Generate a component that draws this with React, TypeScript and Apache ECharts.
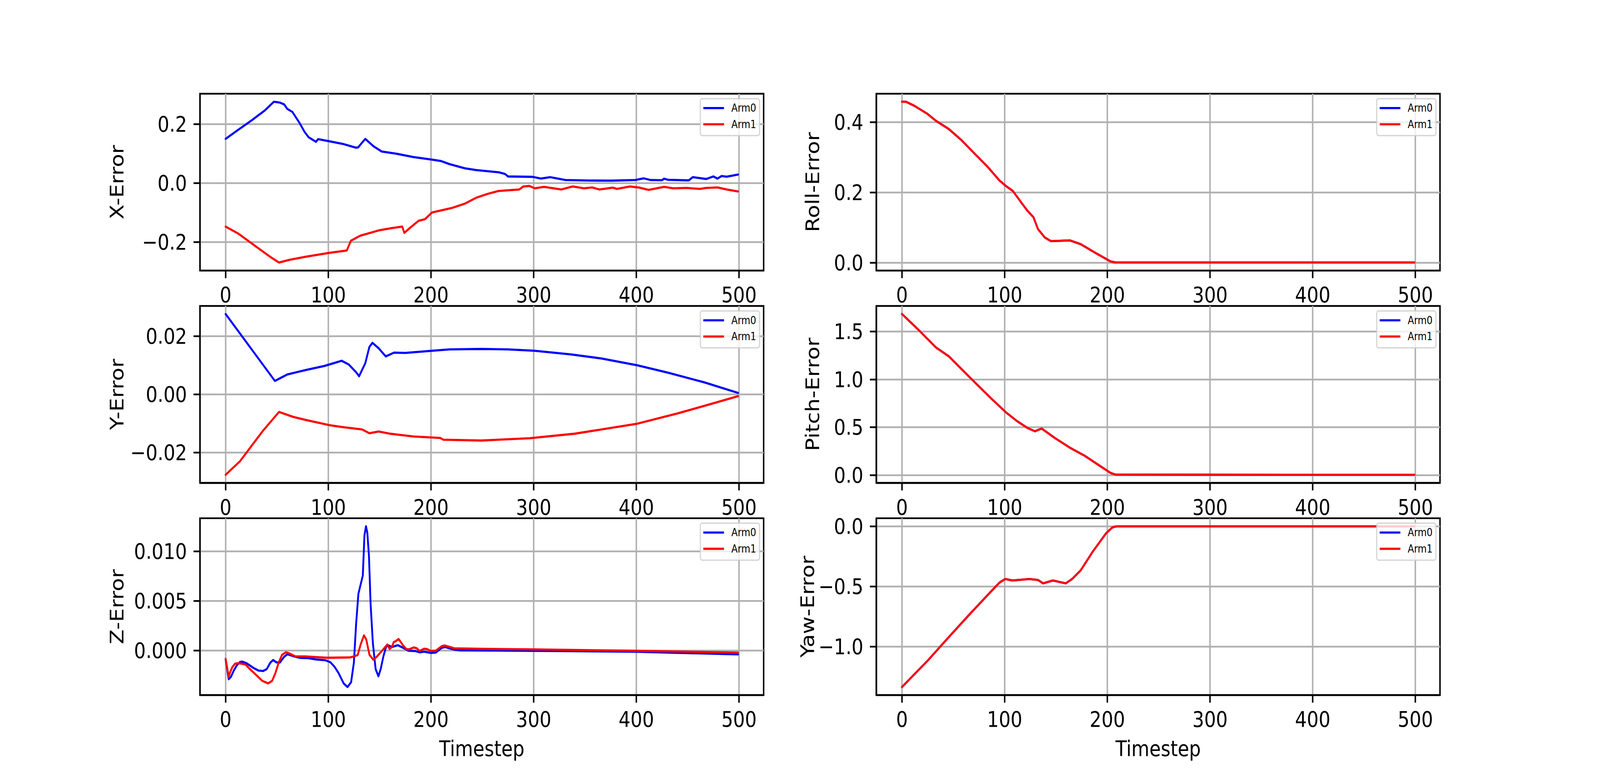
import React, { useEffect, useRef, useState } from "react";
import * as echarts from "echarts";

// ---------- data ----------
const timestepTicks = [0, 100, 200, 300, 400, 500];

const xErrArm0 = [[0,0.150],[12,0.180],[25,0.212],[38,0.246],[47,0.276],[53,0.273],[57,0.267],[60,0.252],[65,0.2415],[72,0.204],[77,0.173],[81,0.155],[88,0.140],[90,0.149],[101,0.142],[114,0.133],[127,0.120],[129,0.121],[136,0.150],[144,0.125],[152,0.107],[166,0.0997],[183,0.088],[201,0.0795],[210,0.0744],[218,0.0643],[233,0.050],[244,0.044],[266,0.0365],[272,0.031],[275,0.0223],[299,0.021],[307,0.0152],[316,0.020],[331,0.0101],[353,0.0086],[375,0.0081],[399,0.0101],[407,0.016],[414,0.0101],[425,0.0096],[427,0.0147],[431,0.011],[451,0.0091],[455,0.020],[468,0.0137],[475,0.0223],[479,0.015],[483,0.0238],[488,0.0215],[499,0.0289]];
const xErrArm1 = [[0,-0.148],[12,-0.171],[27,-0.209],[44,-0.252],[52,-0.270],[62,-0.261],[79,-0.2496],[101,-0.237],[118,-0.229],[122,-0.196],[131,-0.179],[149,-0.161],[162,-0.153],[172,-0.148],[174,-0.169],[181,-0.148],[188,-0.128],[194,-0.123],[201,-0.100],[210,-0.093],[220,-0.085],[233,-0.070],[244,-0.050],[255,-0.037],[266,-0.0268],[286,-0.0218],[290,-0.0116],[296,-0.010],[301,-0.018],[310,-0.013],[327,-0.0218],[338,-0.0116],[349,-0.018],[357,-0.015],[364,-0.0218],[377,-0.0157],[381,-0.020],[394,-0.0116],[403,-0.0157],[412,-0.0233],[427,-0.013],[436,-0.018],[449,-0.0167],[462,-0.020],[468,-0.0167],[479,-0.015],[488,-0.0218],[499,-0.0284]];

const yErrArm0 = [[0,0.02757],[48,0.00458],[53,0.0055],[60,0.0068],[68,0.00748],[79,0.0084],[96,0.0097],[105,0.01065],[113,0.0115],[120,0.0102],[127,0.0076],[130,0.0062],[136,0.01065],[140,0.01626],[143,0.01766],[149,0.0158],[156,0.0130],[164,0.0143],[175,0.0142],[201,0.01495],[218,0.0154],[249,0.01556],[275,0.0154],[301,0.01495],[336,0.0137],[366,0.0123],[401,0.00995],[431,0.0074],[466,0.0041],[499,0.00047]];
const yErrArm1 = [[0,-0.02766],[14,-0.0230],[36,-0.0127],[52,-0.00607],[66,-0.0078],[79,-0.0089],[101,-0.0106],[114,-0.0113],[133,-0.0121],[140,-0.0134],[149,-0.0128],[160,-0.01355],[183,-0.0145],[209,-0.0150],[212,-0.0156],[249,-0.0159],[296,-0.0151],[340,-0.01355],[401,-0.0101],[440,-0.0066],[470,-0.0036],[499,-0.00065]];

const zErrArm0 = [[0,-0.00092],[3,-0.00292],[5.2,-0.00268],[8,-0.00203],[11,-0.0015],[14,-0.00118],[16,-0.00114],[20.5,-0.00131],[27,-0.00177],[32,-0.00205],[36.6,-0.00209],[40,-0.0019],[43.6,-0.00124],[46.3,-0.00098],[49.6,-0.00122],[52.8,-0.00124],[57,-0.00065],[60.3,-0.00039],[66.8,-0.00062],[72,-0.00075],[81,-0.00079],[88,-0.00092],[97,-0.00100],[102,-0.0012],[106,-0.00165],[110,-0.0023],[115,-0.00335],[118.7,-0.00371],[122.2,-0.00322],[124.9,-0.00125],[127.1,0.00269],[129.3,0.00571],[133.6,0.00755],[135.2,0.01161],[136.7,0.01253],[138,0.01188],[139.6,0.00951],[141.2,0.00466],[143.4,0.00072],[146.1,-0.0019],[148.8,-0.00262],[151,-0.0019],[153.7,-0.00059],[156.4,0.00039],[158.6,0.00049],[161.8,0.00033],[167.8,0.00052],[173.8,0.0002],[178.1,-0.00004],[184.6,-0.00007],[188.9,-0.0002],[193.3,-0.00013],[199.8,-0.00026],[204.7,-0.00022],[210.6,0.00026],[213.9,0.00033],[222.6,0.00007],[228,0],[300,-0.00005],[400,-0.00014],[499,-0.00041]];
const zErrArm1 = [[0,-0.00085],[3,-0.00268],[4.3,-0.00223],[6.5,-0.0017],[9.2,-0.00135],[12,-0.00131],[15.6,-0.00135],[19.4,-0.00144],[23.7,-0.0019],[29,-0.00242],[35.6,-0.00308],[41.5,-0.00334],[45.3,-0.00308],[48.5,-0.00229],[51.7,-0.00124],[54.9,-0.00046],[58.7,-0.0002],[62.5,-0.00033],[68,-0.00062],[78,-0.00062],[88,-0.00069],[99,-0.00075],[121,-0.00072],[125,-0.00062],[128.7,-0.00046],[131.5,0.00059],[134.7,0.00151],[136.9,0.00112],[140.1,-0.00046],[143.9,-0.00096],[147.7,-0.00059],[152.1,-0.00007],[157.5,0.00059],[159.7,0.00013],[161.8,0.00033],[163.8,0.00085],[165.6,0.00092],[168.5,0.00114],[172.7,0.00052],[175.9,0.00013],[178.1,0.00009],[183.5,0.00029],[186.2,0.0002],[188.9,-0.00007],[193.3,0.00016],[196,0.00013],[199.8,-0.00007],[204.7,-0.00004],[210.6,0.00043],[213.4,0.00049],[222.6,0.0002],[244,0.00016],[300,0.00009],[400,-0.00005],[499,-0.00023]];

// Both arms coincide in the orientation errors (Arm0 is hidden under Arm1)
const rollErr = [[0,0.4574],[4,0.4574],[12,0.446],[25,0.4226],[33,0.4034],[45.5,0.380],[58,0.348],[70,0.312],[83,0.2736],[95,0.2332],[101,0.2183],[108,0.2034],[116,0.1715],[122,0.148],[128,0.129],[132.5,0.0949],[139,0.0715],[145,0.0609],[153,0.0617],[163.5,0.063],[174,0.0523],[190,0.0247],[203,0.0034],[208,0],[499,0]];
const pitchErr = [[0,1.682],[16.6,1.511],[33,1.333],[45.5,1.241],[66,1.020],[87,0.799],[101,0.657],[112,0.564],[122,0.493],[129.5,0.457],[136,0.486],[149,0.386],[163.5,0.286],[178,0.201],[192,0.101],[203,0.023],[208,0.004],[499,0.003]];
const yawErr = [[0,-1.338],[25,-1.118],[45.5,-0.923],[66,-0.731],[87,-0.540],[95,-0.468],[100.6,-0.439],[107.6,-0.451],[124,-0.439],[132.5,-0.447],[137.4,-0.475],[147,-0.451],[159.4,-0.475],[165.6,-0.439],[174,-0.367],[186,-0.208],[199,-0.056],[205,-0.009],[209,0],[499,0]];

const panelNames = ["X-Error", "Y-Error", "Z-Error", "Roll-Error", "Pitch-Error", "Yaw-Error"];
const arm0Series = [xErrArm0, yErrArm0, zErrArm0, rollErr, pitchErr, yawErr];
const arm1Series = [xErrArm1, yErrArm1, zErrArm1, rollErr, pitchErr, yawErr];
const yTicks = [
  [-0.2, 0.0, 0.2],
  [-0.02, 0.0, 0.02],
  [0.0, 0.005, 0.01],
  [0.0, 0.2, 0.4],
  [0.0, 0.5, 1.0, 1.5],
  [-1.0, -0.5, 0.0],
];
const yTickDecimals = [1, 2, 3, 1, 1, 1];
const armNames = ["Arm0", "Arm1"];

// ---------- layout (matplotlib default subplot geometry on a 4800x2000 canvas) ----------
const W = 4800;
const H = 2000;
const PT = 400 / 72; // px per point at 400 dpi
const axL = [600, 2629.1];
const axW = 1690.9;
const axT = [240, 783.5, 1327.1];
const axH = 452.9;

function extent(series: number[][][], k: number) {
  let lo = Infinity, hi = -Infinity;
  for (const s of series) for (const p of s) { lo = Math.min(lo, p[k]); hi = Math.max(hi, p[k]); }
  const m = (hi - lo) * 0.05;
  return [lo - m, hi + m];
}

const fmt = (dec: number) => (v: number) => {
  const s = Math.abs(v).toFixed(dec);
  return (v < -1e-12 ? "\u2212" : "") + s;
};

function getViewport() {
  const w = (typeof window !== "undefined" && window.innerWidth) || W;
  const h = (typeof window !== "undefined" && window.innerHeight) || H;
  return { w: Math.min(W, w), h: Math.min(H, h) };
}

export default function App() {
  const ref = useRef<HTMLDivElement>(null);
  const [vp] = useState(getViewport);
  useEffect(() => {
    document.body.style.margin = "0";
    document.body.style.overflow = "hidden";
    if (!ref.current) return;
    const chart = echarts.init(ref.current, undefined, { renderer: "svg" });
    const font = "DejaVu Sans";
    const grids: any[] = [];
    const xAxes: any[] = [];
    const yAxes: any[] = [];
    const legends: any[] = [];
    const series: any[] = [];
    for (let i = 0; i < 6; i++) {
      const col = i < 3 ? 0 : 1;
      const row = i % 3;
      const left = axL[col];
      const top = axT[row];
      grids.push({
        left, top, width: axW, height: axH,
        show: true, borderColor: "#000", borderWidth: 0.8 * PT, backgroundColor: "transparent",
        containLabel: false,
      });
      const xe = extent([arm0Series[i], arm1Series[i]], 0);
      const ye = extent([arm0Series[i], arm1Series[i]], 1);
      xAxes.push({
        type: "value", gridIndex: i, min: xe[0], max: xe[1],
        axisLine: { show: true, onZero: false, lineStyle: { color: "#000", width: 0.8 * PT } },
        axisTick: { show: true, inside: false, length: 3.5 * PT, customValues: timestepTicks, lineStyle: { color: "#000", width: 0.8 * PT } },
        axisLabel: { show: true, customValues: timestepTicks, margin: 34, fontSize: 10 * PT, fontFamily: font, color: "#000", formatter: (v: number) => String(Math.round(v)) },
        splitLine: { show: true, lineStyle: { color: "#b0b0b0", width: 0.8 * PT } },
        name: row === 2 ? "Timestep" : "",
        nameLocation: "middle", nameGap: 109,
        nameTextStyle: { fontSize: 10 * PT, fontFamily: font, color: "#000" },
      });
      yAxes.push({
        type: "value", gridIndex: i, min: ye[0], max: ye[1],
        axisLine: { show: true, onZero: false, lineStyle: { color: "#000", width: 0.8 * PT } },
        axisTick: { show: true, inside: false, length: 3.5 * PT, customValues: yTicks[i], lineStyle: { color: "#000", width: 0.8 * PT } },
        axisLabel: { show: true, customValues: yTicks[i], margin: 39, fontSize: 10 * PT, fontFamily: font, color: "#000", formatter: fmt(yTickDecimals[i]) },
        splitLine: { show: true, lineStyle: { color: "#b0b0b0", width: 0.8 * PT } },
        name: panelNames[i],
        nameLocation: "middle", nameRotate: 90, nameGap: col === 0 ? 221 : 163,
        nameTextStyle: { fontSize: 10 * PT, fontFamily: font, color: "#000" },
      });
      legends.push({
        show: true, orient: "vertical", selectedMode: false,
        left: left + axW - 12.9 - 177, top: top + 12.7,
        data: armNames, icon: "rect", itemWidth: 62, itemHeight: 1 * PT, itemGap: 13.6,
        padding: [10, 10, 15, 9],
        backgroundColor: "rgba(255,255,255,0.8)", borderColor: "rgba(204,204,204,0.8)", borderWidth: 3.5, borderRadius: 6,
        textStyle: { fontSize: 5 * PT, fontFamily: font, color: "#000", lineHeight: 28, padding: [0, 0, 0, 17] },
      });
      const colors = ["#0000ff", "#ff0000"];
      [arm0Series[i], arm1Series[i]].forEach((d, k) => {
        series.push({
          type: "line", name: armNames[k], xAxisIndex: i, yAxisIndex: i,
          data: d, showSymbol: false, symbol: "none", smooth: false,
          color: colors[k],
          lineStyle: { color: colors[k], width: 1 * PT, join: "round", cap: "round" },
          itemStyle: { color: colors[k] },
          emphasis: { disabled: true }, silent: true, z: 2 + k,
        });
      });
    }
    chart.setOption({
      animation: false,
      backgroundColor: "#ffffff",
      grid: grids, xAxis: xAxes, yAxis: yAxes, legend: legends, series,
    });
    return () => chart.dispose();
  }, []);
  // The browser viewport may be narrower than the 4800x2000 canvas: the full figure is
  // mapped onto the viewport so that every part keeps its relative position.
  const sx = vp.w / W;
  const sy = vp.h / H;
  return (
    <div style={{ position: "fixed", left: 0, top: 0, width: vp.w, height: vp.h, overflow: "hidden", background: "#fff" }}>
      <div
        ref={ref}
        style={{ position: "absolute", left: 0, top: 0, width: W, height: H, transform: `scale(${sx}, ${sy})`, transformOrigin: "0 0" }}
      />
    </div>
  );
}
